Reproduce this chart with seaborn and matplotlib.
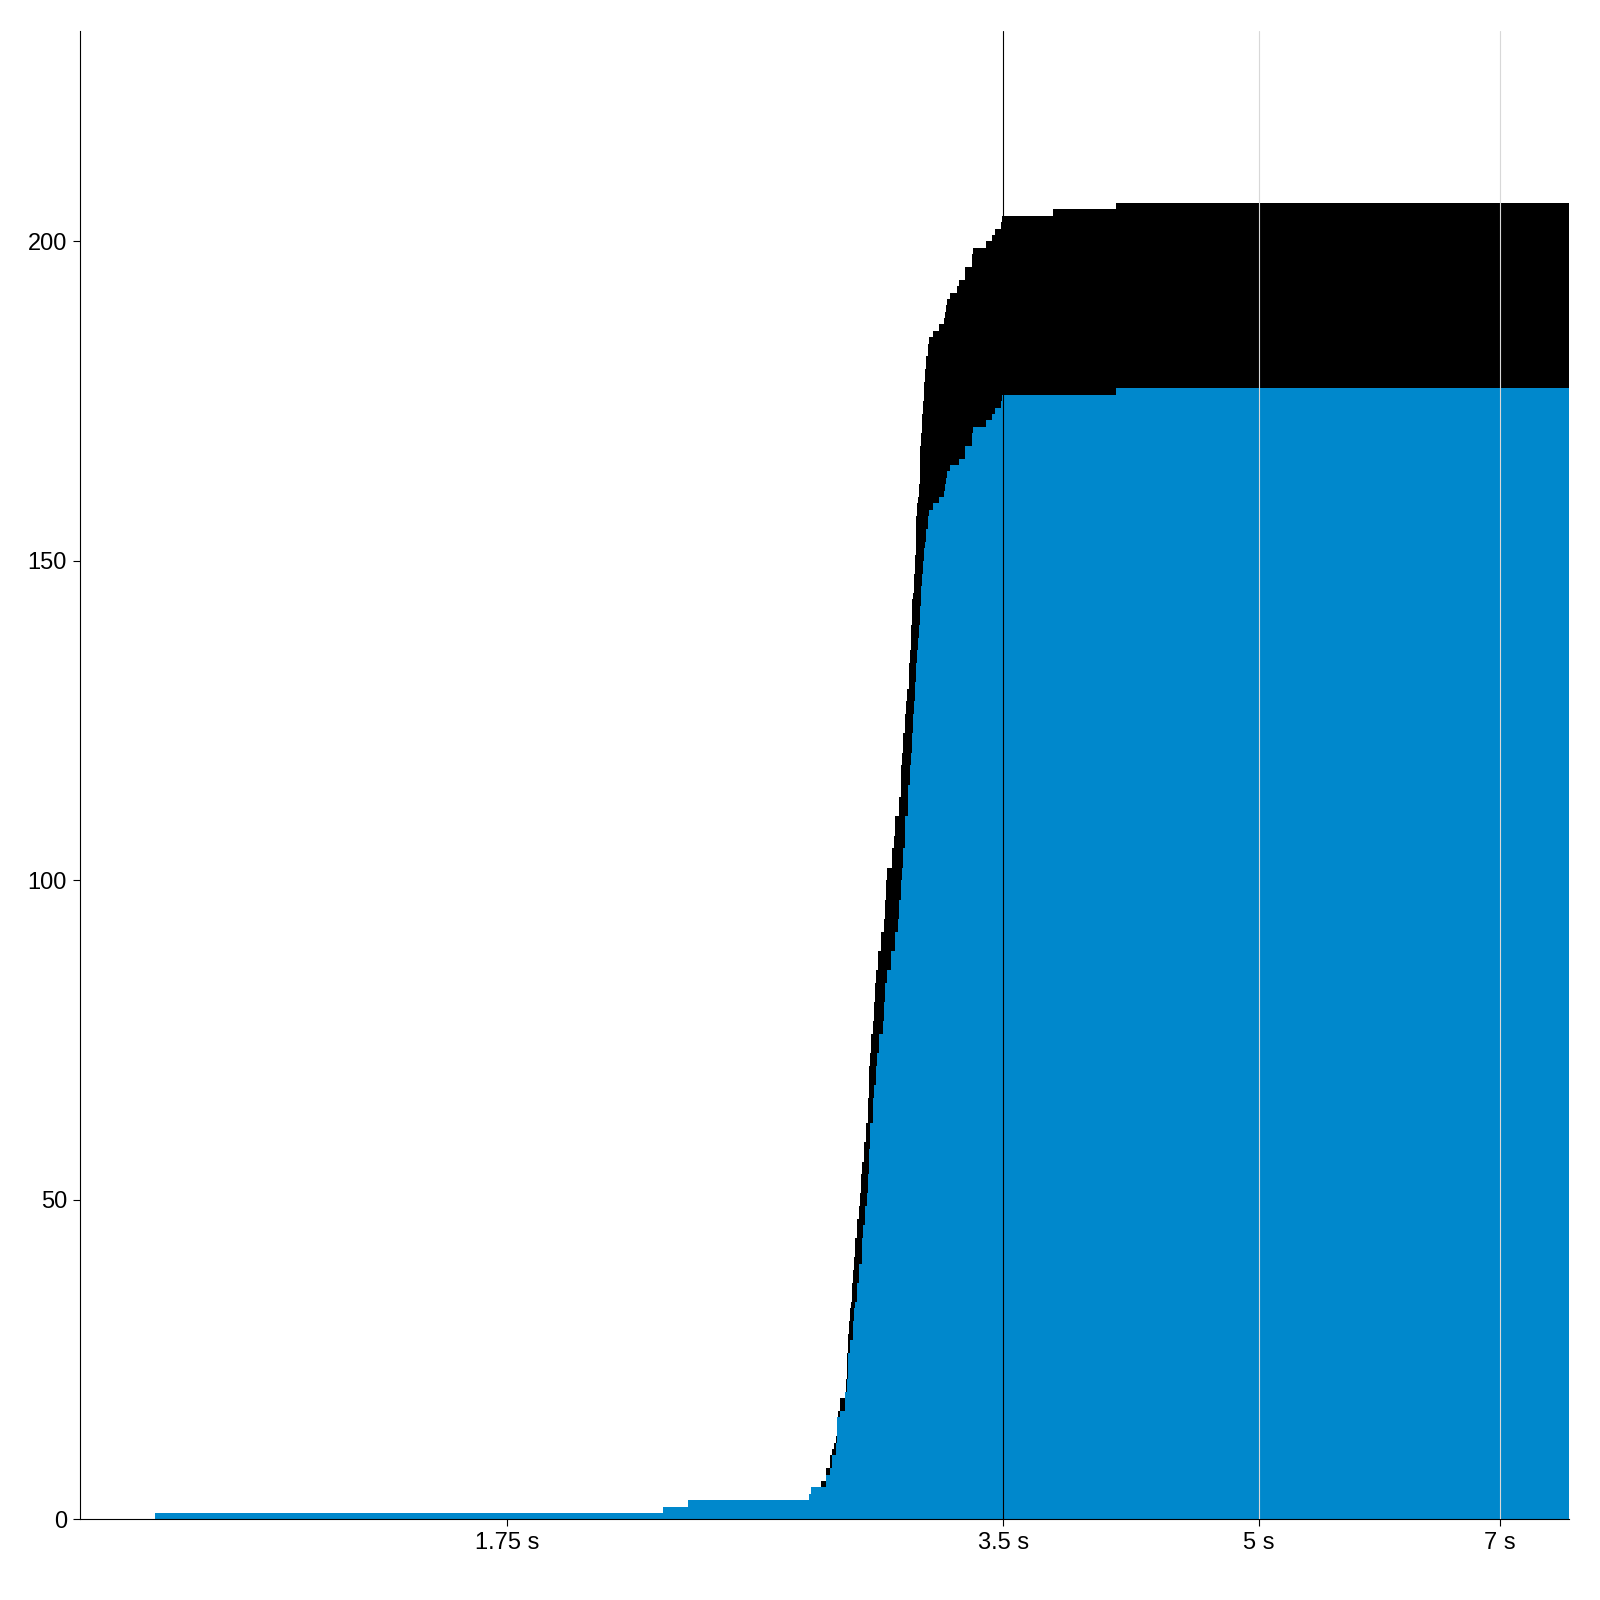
import numpy as np
import matplotlib
matplotlib.use("Agg")
import matplotlib.pyplot as plt
import seaborn as sns

# ---- data (time in seconds, cumulative count after each step) ----
total_t = [1.070, 2.175, 2.253, 2.667, 2.675, 2.712, 2.731, 2.747, 2.754, 2.762,
           2.770, 2.774, 2.778, 2.785, 2.805, 2.809, 2.813, 2.817, 2.821, 2.824,
           2.828, 2.832, 2.836, 2.840, 2.845, 2.852, 2.860, 2.864, 2.868, 2.873,
           2.880, 2.888, 2.895, 2.900, 2.904, 2.908, 2.918, 2.921, 2.925, 2.929,
           2.938, 2.950, 2.962, 2.966, 2.970, 2.975, 2.994, 3.003, 3.008, 3.025,
           3.032, 3.036, 3.043, 3.050, 3.054, 3.059, 3.067, 3.071, 3.076, 3.080,
           3.084, 3.089, 3.093, 3.097, 3.101, 3.106, 3.110, 3.114, 3.119, 3.123,
           3.127, 3.132, 3.136, 3.141, 3.149, 3.154, 3.172, 3.198, 3.221, 3.225,
           3.230, 3.234, 3.248, 3.280, 3.289, 3.316, 3.349, 3.354, 3.415, 3.444,
           3.458, 3.487, 3.492, 3.750, 4.095]
total_n = [1, 2, 3, 4, 5, 6, 8, 10, 11, 12,
           13, 16, 17, 19, 20, 22, 26, 29, 31, 33,
           34, 37, 39, 41, 44, 47, 49, 51, 54, 56,
           59, 62, 66, 71, 73, 76, 78, 81, 84, 86,
           89, 92, 94, 97, 100, 102, 105, 107, 110, 113,
           118, 120, 123, 126, 128, 130, 134, 136, 140, 144,
           145, 148, 151, 157, 159, 160, 162, 168, 170, 173,
           175, 178, 180, 182, 184, 185, 186, 187, 188, 189,
           190, 191, 192, 193, 194, 196, 198, 199, 200, 201,
           202, 203, 204, 205, 206]

blue_t = [1.070, 2.175, 2.253, 2.667, 2.675, 2.731, 2.747, 2.754, 2.770, 2.774,
          2.785, 2.805, 2.813, 2.816, 2.824, 2.836, 2.840, 2.845, 2.852, 2.862,
          2.871, 2.878, 2.884, 2.891, 2.895, 2.900, 2.904, 2.915, 2.921, 2.929,
          2.934, 2.943, 2.959, 2.962, 2.966, 2.975, 2.990, 3.008, 3.022, 3.024,
          3.032, 3.036, 3.043, 3.050, 3.061, 3.064, 3.071, 3.076, 3.079, 3.086,
          3.089, 3.093, 3.097, 3.101, 3.106, 3.110, 3.114, 3.119, 3.123, 3.127,
          3.132, 3.136, 3.141, 3.149, 3.154, 3.172, 3.198, 3.221, 3.225, 3.230,
          3.234, 3.248, 3.289, 3.316, 3.349, 3.354, 3.415, 3.444, 3.458, 3.487,
          3.494, 4.095]
blue_n = [1, 2, 3, 4, 5, 7, 8, 10, 12, 16,
          17, 20, 22, 26, 28, 31, 33, 34, 37, 40,
          44, 46, 49, 51, 54, 58, 62, 66, 68, 71,
          73, 76, 78, 81, 84, 86, 89, 92, 94, 97,
          100, 102, 105, 110, 113, 115, 118, 120, 123, 126,
          128, 131, 134, 136, 138, 140, 143, 146, 148, 150,
          152, 153, 155, 157, 158, 159, 160, 161, 162, 163,
          164, 165, 166, 168, 170, 171, 172, 173, 174, 175,
          176, 177]

x_ticks = [1.75, 3.5, 5, 7]
x_tick_labels = ["1.75 s", "3.5 s", "5 s", "7 s"]
y_ticks = [0, 50, 100, 150, 200]
x_range = [0.963, 7.71]
y_range = [0, 233]
marker_black = [3.5]
marker_light = [5, 7]

# ---- style ----
sns.set_theme(style="ticks")
plt.rcParams["font.family"] = ["Liberation Sans", "DejaVu Sans"]

fig = plt.figure(figsize=(16, 16), dpi=100)
ax = fig.add_axes([0.0497, 0.0504, 0.9309, 0.9305])

def stepped(t, n):
    return np.r_[t, x_range[1]], np.r_[n, n[-1]]

tt, tn = stepped(total_t, total_n)
bt, bn = stepped(blue_t, blue_n)
ax.fill_between(tt, 0, tn, step="post", color="#000000", linewidth=0)
ax.fill_between(bt, 0, bn, step="post", color="#0088cc", linewidth=0)

for x in marker_light:
    ax.axvline(x, color="#d8d8d8", linewidth=0.8, zorder=3)
for x in marker_black:
    ax.axvline(x, color="#000000", linewidth=0.8, zorder=3)

ax.set_xscale("log")
ax.set_xlim(*x_range)
ax.set_ylim(*y_range)
ax.set_xticks(x_ticks)
ax.set_xticklabels(x_tick_labels)
ax.xaxis.set_minor_locator(matplotlib.ticker.NullLocator())
ax.set_yticks(y_ticks)
ax.set_yticklabels([str(v) for v in y_ticks])

ax.tick_params(axis="both", which="major", length=5, width=0.8, color="black",
               labelsize=17, labelcolor="black", pad=4)
sns.despine(ax=ax)
for s in ["left", "bottom"]:
    ax.spines[s].set_color("black")
    ax.spines[s].set_linewidth(0.8)
ax.set_facecolor("white")
ax.grid(False)

fig.savefig("out.png", dpi=100, facecolor="white")
